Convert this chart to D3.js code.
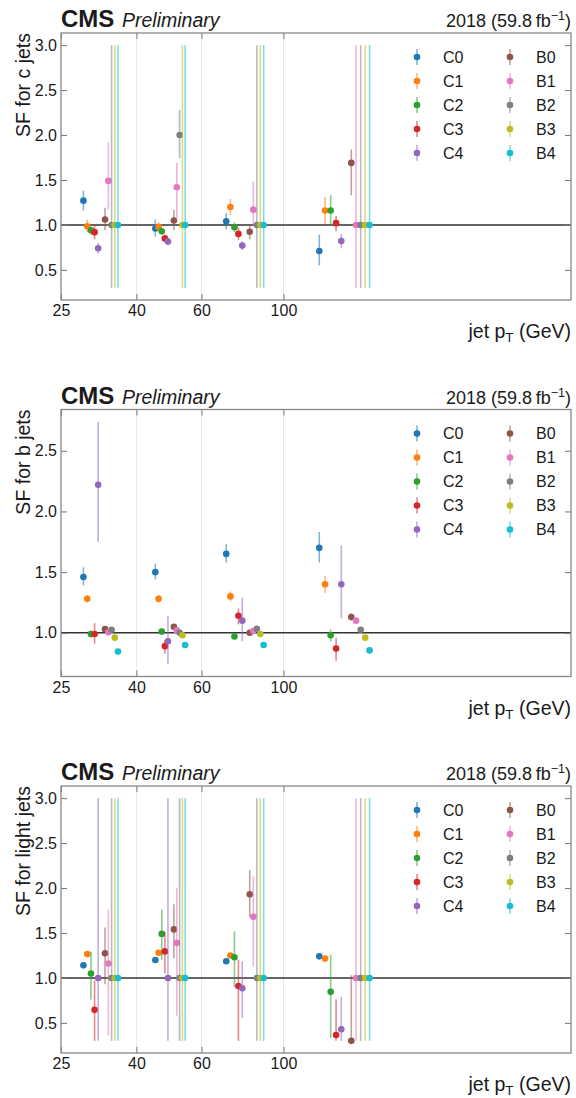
<!DOCTYPE html>
<html>
<head>
<meta charset="utf-8">
<script src="https://cdn.jsdelivr.net/npm/d3@7"></script>
<style>
  body { margin: 0; background: #fff; }
  text { font-family: "Liberation Sans", Arial, Helvetica, sans-serif; fill: #1a1a1a; }
</style>
</head>
<body>
<div id="chart"></div>
<script>
const series = ["C0", "C1", "C2", "C3", "C4", "B0", "B1", "B2", "B3", "B4"];
const seriesColors = ["#1f77b4", "#ff7f0e", "#2ca02c", "#d62728", "#9467bd",
                      "#8c564b", "#e377c2", "#7f7f7f", "#bcbd22", "#17becf"];
const ptBins = [25, 40, 60, 100, 200];
const xTicks = [25, 40, 60, 100];

// one row per series, one entry per pT bin
const cSF   = [[1.27, 0.96, 1.04, 0.71], [0.985, 0.98, 1.20, 1.16], [0.94, 0.93, 0.975, 1.16],
               [0.92, 0.85, 0.90, 1.02], [0.74, 0.815, 0.77, 0.82], [1.06, 1.05, 0.925, 1.69],
               [1.49, 1.42, 1.17, 1.0], [1.0, 2.0, 1.0, 1.0], [1.0, 1.0, 1.0, 1.0], [1.0, 1.0, 1.0, 1.0]];
const cLow  = [[1.16, 0.87, 0.95, 0.55], [0.92, 0.93, 1.11, 1.01], [0.89, 0.89, 0.92, 1.0],
               [0.84, 0.81, 0.83, 0.93], [0.68, 0.77, 0.72, 0.74], [0.94, 0.94, 0.84, 1.33],
               [1.17, 1.07, 1.0, 0.3], [0.3, 1.74, 0.3, 0.3], [0.3, 0.3, 0.3, 0.3], [0.3, 0.3, 0.3, 0.3]];
const cHigh = [[1.38, 1.06, 1.13, 0.89], [1.06, 1.03, 1.29, 1.31], [0.98, 0.97, 1.03, 1.33],
               [1.01, 0.89, 0.97, 1.10], [0.80, 0.86, 0.82, 0.90], [1.19, 1.17, 1.01, 1.84],
               [1.92, 1.69, 1.48, 3.0], [3.0, 2.28, 3.0, 3.0], [3.0, 3.0, 3.0, 3.0], [3.0, 3.0, 3.0, 3.0]];

const bSF   = [[1.46, 1.50, 1.65, 1.70], [1.28, 1.28, 1.30, 1.40], [0.99, 1.01, 0.97, 0.98],
               [0.99, 0.89, 1.14, 0.87], [2.22, 0.93, 1.10, 1.40], [1.03, 1.05, 1.0, 1.13],
               [1.005, 1.02, 1.017, 1.10], [1.025, 1.0, 1.033, 1.025], [0.96, 0.98, 0.99, 0.96],
               [0.845, 0.90, 0.90, 0.855]];
const bLow  = [[1.39, 1.44, 1.58, 1.58], [1.25, 1.25, 1.26, 1.33], [0.96, 0.99, 0.95, 0.93],
               [0.91, 0.83, 1.07, 0.77], [1.75, 0.74, 0.93, 1.12], [1.01, 1.03, 0.98, 1.10],
               [0.99, 1.005, 1.0, 1.085], [1.01, 0.985, 1.015, 1.01], [0.945, 0.965, 0.975, 0.945],
               [0.83, 0.885, 0.885, 0.84]];
const bHigh = [[1.54, 1.57, 1.73, 1.83], [1.31, 1.31, 1.34, 1.47], [1.02, 1.03, 0.99, 1.03],
               [1.08, 0.94, 1.20, 0.96], [2.74, 1.14, 1.29, 1.72], [1.05, 1.07, 1.02, 1.16],
               [1.02, 1.035, 1.034, 1.115], [1.04, 1.015, 1.05, 1.04], [0.975, 0.995, 1.005, 0.975],
               [0.86, 0.915, 0.915, 0.87]];

const lSF   = [[1.14, 1.20, 1.185, 1.24], [1.265, 1.28, 1.25, 1.215], [1.05, 1.49, 1.23, 0.845],
               [0.645, 1.295, 0.91, 0.365], [1.0, 1.0, 0.885, 0.43], [1.275, 1.54, 1.93, 0.30],
               [1.16, 1.39, 1.68, 1.0], [1.0, 1.0, 1.0, 1.0], [1.0, 1.0, 1.0, 1.0], [1.0, 1.0, 1.0, 1.0]];
const lLow  = [[1.125, 1.185, 1.17, 1.225], [1.25, 1.265, 1.235, 1.20], [0.76, 1.20, 0.90, 0.33],
               [0.3, 1.05, 0.3, 0.3], [0.3, 0.3, 0.555, 0.3], [0.93, 1.215, 1.68, 0.3],
               [0.36, 0.58, 1.13, 0.3], [0.3, 0.3, 0.3, 0.3], [0.3, 0.3, 0.3, 0.3], [0.3, 0.3, 0.3, 0.3]];
const lHigh = [[1.155, 1.215, 1.20, 1.255], [1.28, 1.295, 1.265, 1.23], [1.29, 1.76, 1.52, 1.26],
               [0.97, 1.51, 1.2, 0.76], [3.0, 3.0, 1.185, 0.79], [1.56, 1.82, 2.2, 1.03],
               [1.76, 2.0, 2.13, 3.0], [3.0, 3.0, 3.0, 3.0], [3.0, 3.0, 3.0, 3.0], [3.0, 3.0, 3.0, 3.0]];

const panels = [
    { ylabel: "SF for c jets", sf: cSF, low: cLow, high: cHigh },
    { ylabel: "SF for b jets", sf: bSF, low: bLow, high: bHigh },
    { ylabel: "SF for light jets", sf: lSF, low: lLow, high: lHigh }
];

const width = 576, height = 1098;
const margin = { left: 61, right: 5, top: 33 };
const plotH = 267;
const panelStep = 376.5;

const svg = d3.select("#chart").append("svg")
    .attr("width", width)
    .attr("height", height);

const x = d3.scaleLog()
    .domain([25, 600])
    .range([margin.left, width - margin.right]);

// spread the series across each pT bin, with a gap between the C and B groups
function dodgePt(bin, i) {
    const slot = i < 5 ? i : i + 1;
    const lo = ptBins[bin], hi = ptBins[bin + 1];
    return lo + (hi - lo) * (0.25 + 0.046 * slot);
}

panels.forEach(function(p, k) {
    const top = margin.top + k * panelStep;
    const bottom = top + plotH;

    // matplotlib style 5% padding around the error bar extent
    const ymin = d3.min(p.low.flat()), ymax = d3.max(p.high.flat());
    const pad = (ymax - ymin) * 0.05;
    const y = d3.scaleLinear()
        .domain([ymin - pad, ymax + pad])
        .range([bottom, top]);

    const g = svg.append("g");

    // vertical grid
    g.selectAll("line.grid")
        .data(xTicks.slice(1))
        .enter().append("line")
        .attr("class", "grid")
        .attr("x1", d => x(d)).attr("x2", d => x(d))
        .attr("y1", top).attr("y2", bottom)
        .attr("stroke", "#e9e9e9")
        .attr("stroke-width", 1);

    // SF = 1 reference
    g.append("line")
        .attr("x1", x.range()[0]).attr("x2", x.range()[1])
        .attr("y1", y(1)).attr("y2", y(1))
        .attr("stroke", "#333")
        .attr("stroke-width", 1.5);

    const yTicks = d3.range(0.5, 3.01, 0.5).filter(v => v >= y.domain()[0] && v <= y.domain()[1]);

    const axisStyle = sel => {
        sel.select(".domain").remove();
        sel.selectAll(".tick line").attr("stroke", "#777").attr("stroke-width", 1);
        sel.selectAll(".tick text")
           .attr("font-size", 16)
           .attr("fill", "#1a1a1a")
           .attr("font-family", "Liberation Sans, Arial, sans-serif");
    };

    g.append("g")
        .attr("transform", `translate(${margin.left},0)`)
        .call(d3.axisLeft(y).tickValues(yTicks).tickFormat(d3.format(".1f"))
              .tickSizeInner(-6).tickSizeOuter(0).tickPadding(4))
        .call(axisStyle);
    g.append("g")
        .attr("transform", `translate(${width - margin.right},0)`)
        .call(d3.axisRight(y).tickValues(yTicks).tickFormat("")
              .tickSizeInner(-6).tickSizeOuter(0))
        .call(axisStyle);
    g.append("g")
        .attr("transform", `translate(0,${bottom})`)
        .call(d3.axisBottom(x).tickValues(xTicks).tickFormat(d3.format("d"))
              .tickSizeInner(-6).tickSizeOuter(0).tickPadding(5))
        .call(axisStyle);
    g.append("g")
        .attr("transform", `translate(0,${top})`)
        .call(d3.axisTop(x).tickValues(xTicks).tickFormat("")
              .tickSizeInner(-6).tickSizeOuter(0))
        .call(axisStyle);

    // frame
    g.append("rect")
        .attr("x", margin.left).attr("y", top)
        .attr("width", width - margin.right - margin.left).attr("height", plotH)
        .attr("fill", "none")
        .attr("stroke", "#888")
        .attr("stroke-width", 1.3);

    // error bars and markers
    series.forEach(function(name, i) {
        const pts = p.sf[i].map((v, b) => ({ pt: dodgePt(b, i), v: v, lo: p.low[i][b], hi: p.high[i][b] }));
        const sg = g.append("g").attr("class", "series-" + name);
        pts.forEach(function(d) {
            sg.append("line")
                .attr("x1", x(d.pt)).attr("x2", x(d.pt))
                .attr("y1", y(d.lo)).attr("y2", y(d.hi))
                .attr("stroke", seriesColors[i])
                .attr("stroke-opacity", 0.55)
                .attr("stroke-width", 1.6);
            sg.append("circle")
                .attr("cx", x(d.pt)).attr("cy", y(d.v))
                .attr("r", 3.3)
                .attr("fill", seriesColors[i]);
        });
    });

    // legend
    const leg = g.append("g");
    series.forEach(function(name, i) {
        const lx = i < 5 ? 417 : 510;
        const ly = top + 24 + 24 * (i % 5);
        leg.append("line")
            .attr("x1", lx).attr("x2", lx)
            .attr("y1", ly - 8).attr("y2", ly + 8)
            .attr("stroke", seriesColors[i])
            .attr("stroke-opacity", 0.55)
            .attr("stroke-width", 1.6);
        leg.append("circle")
            .attr("cx", lx).attr("cy", ly).attr("r", 3.3)
            .attr("fill", seriesColors[i]);
        leg.append("text")
            .attr("x", lx + 26).attr("y", ly)
            .attr("dy", "0.36em")
            .attr("font-size", 16)
            .text(name);
    });

    // labels
    g.append("text")
        .attr("x", margin.left).attr("y", top - 6)
        .attr("font-size", 24).attr("font-weight", "bold")
        .text("CMS");
    g.append("text")
        .attr("x", margin.left + 61).attr("y", top - 6)
        .attr("font-size", 19.5).attr("font-style", "italic")
        .text("Preliminary");

    const lumi = g.append("text")
        .attr("x", width - margin.right).attr("y", top - 6)
        .attr("text-anchor", "end")
        .attr("font-size", 18);
    lumi.append("tspan").text("2018 (59.8\u2009fb");
    lumi.append("tspan").attr("dy", -7).attr("font-size", 12.5).text("\u22121");
    lumi.append("tspan").attr("dy", 7).text(")");

    g.append("text")
        .attr("transform", `translate(29.5,${top}) rotate(-90)`)
        .attr("text-anchor", "end")
        .attr("font-size", 19.5)
        .text(p.ylabel);

    const xl = g.append("text")
        .attr("x", width - margin.right).attr("y", bottom + 38)
        .attr("text-anchor", "end")
        .attr("font-size", 19.5);
    xl.append("tspan").text("jet p");
    xl.append("tspan").attr("dy", 4).attr("font-size", 13.5).text("T");
    xl.append("tspan").attr("dy", -4).text(" (GeV)");
});
</script>
</body>
</html>
